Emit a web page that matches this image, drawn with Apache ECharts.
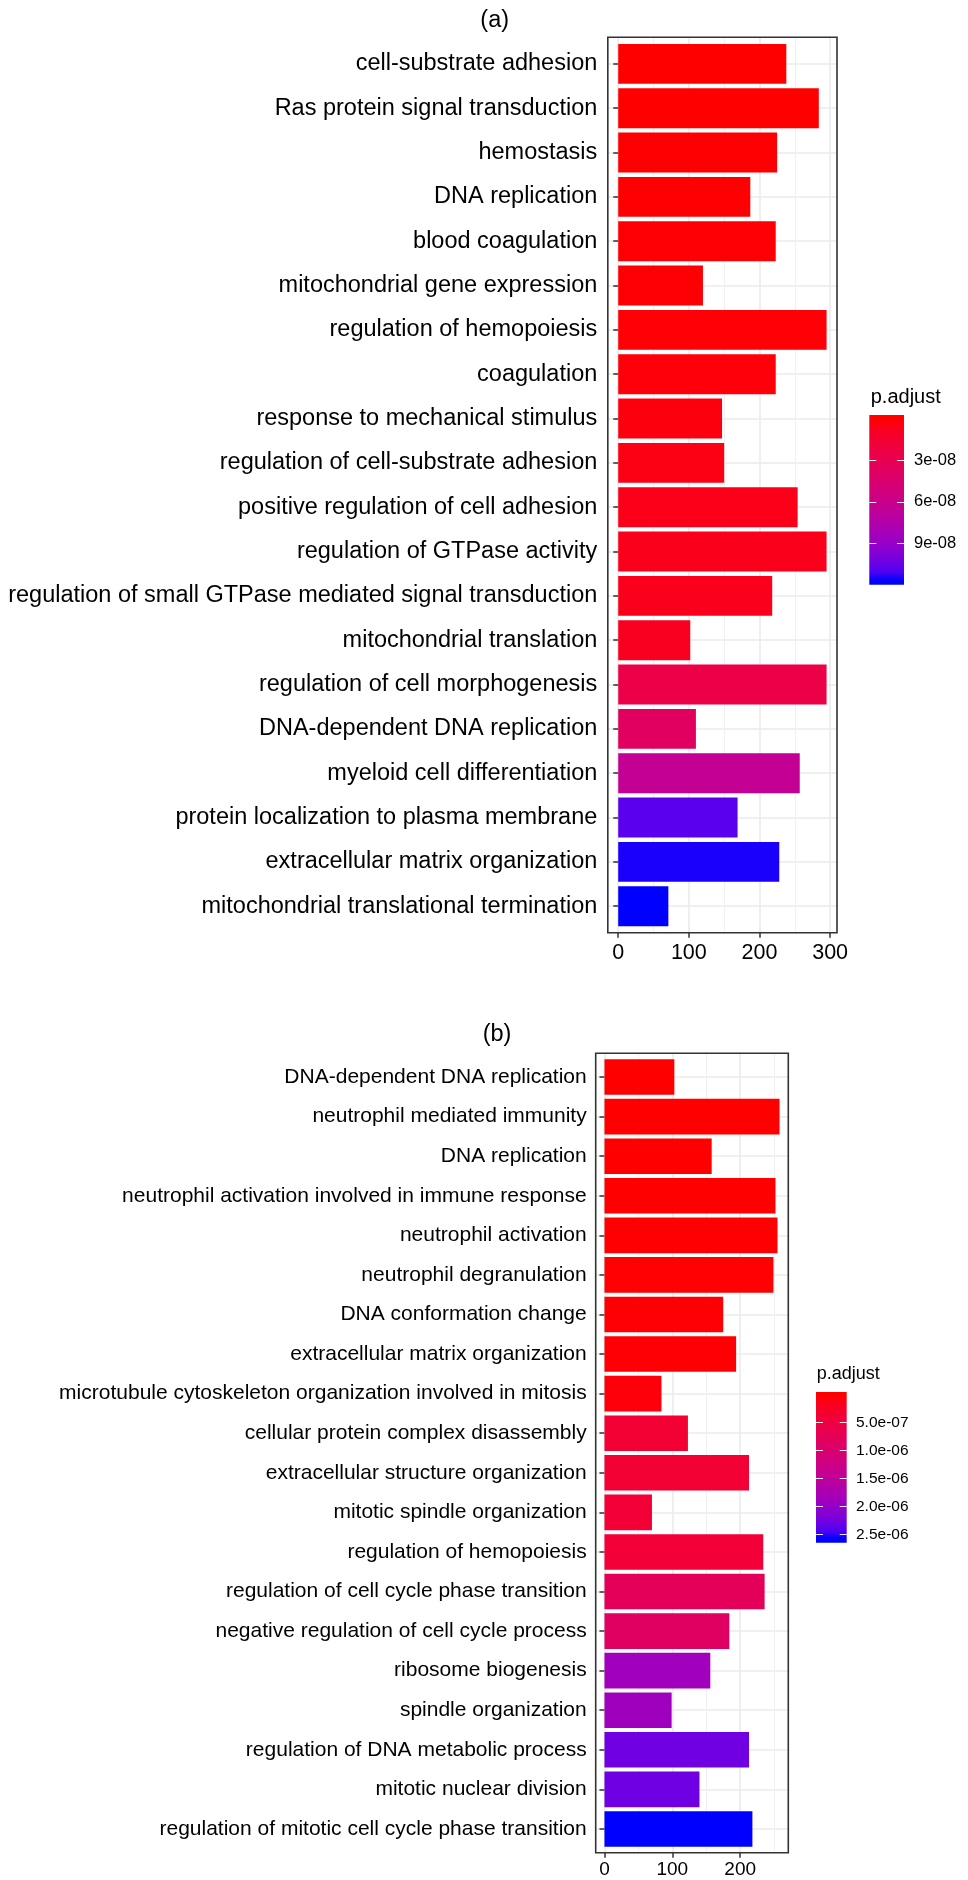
<!DOCTYPE html>
<html>
<head>
<meta charset="utf-8">
<script src="https://cdn.jsdelivr.net/npm/echarts@6.0.0/dist/echarts.min.js"></script>
<style>
html,body{margin:0;padding:0;background:#ffffff;}
#chart{width:968px;height:1880px;}
</style>
</head>
<body>
<div id="chart"></div>
<script>
// ---------------- DATA ----------------
const categoriesA = [
  "cell-substrate adhesion",
  "Ras protein signal transduction",
  "hemostasis",
  "DNA replication",
  "blood coagulation",
  "mitochondrial gene expression",
  "regulation of hemopoiesis",
  "coagulation",
  "response to mechanical stimulus",
  "regulation of cell-substrate adhesion",
  "positive regulation of cell adhesion",
  "regulation of GTPase activity",
  "regulation of small GTPase mediated signal transduction",
  "mitochondrial translation",
  "regulation of cell morphogenesis",
  "DNA-dependent DNA replication",
  "myeloid cell differentiation",
  "protein localization to plasma membrane",
  "extracellular matrix organization",
  "mitochondrial translational termination"
];
const countsA = [238, 284, 225, 187, 223, 120, 295, 223, 147, 150, 254, 295, 218, 102, 295, 110, 257, 169, 228, 71];
const padjA = [0.005e-8, 0.02e-8, 0.04e-8, 0.06e-8, 0.08e-8, 0.10e-8, 0.12e-8, 0.2e-8, 0.3e-8, 0.45e-8,
               0.55e-8, 0.6e-8, 0.7e-8, 0.8e-8, 2.5e-8, 3.7e-8, 6.4e-8, 10.8e-8, 11.5e-8, 11.7e-8];

const categoriesB = [
  "DNA-dependent DNA replication",
  "neutrophil mediated immunity",
  "DNA replication",
  "neutrophil activation involved in immune response",
  "neutrophil activation",
  "neutrophil degranulation",
  "DNA conformation change",
  "extracellular matrix organization",
  "microtubule cytoskeleton organization involved in mitosis",
  "cellular protein complex disassembly",
  "extracellular structure organization",
  "mitotic spindle organization",
  "regulation of hemopoiesis",
  "regulation of cell cycle phase transition",
  "negative regulation of cell cycle process",
  "ribosome biogenesis",
  "spindle organization",
  "regulation of DNA metabolic process",
  "mitotic nuclear division",
  "regulation of mitotic cell cycle phase transition"
];
const countsB = [103, 258, 158, 252, 255, 249, 175, 194, 84, 123, 213, 70, 234, 236, 184, 156, 99, 213, 140, 218];
const padjB = [1.8e-8, 2.0e-8, 2.2e-8, 2.5e-8, 2.8e-8, 3.2e-8, 3.6e-8, 4.0e-8, 6.9e-8, 3.77e-7,
               3.8e-7, 3.9e-7, 4.0e-7, 7.6e-7, 8.6e-7, 1.86e-6, 1.89e-6, 2.27e-6, 2.28e-6, 2.58e-6];

const xTicksA = [0, 100, 200, 300];
const xMinorA = [50, 150, 250];
const xTicksB = [0, 100, 200];
const xMinorB = [50, 150, 250];
const legendTicksA = [3e-8, 6e-8, 9e-8];
const legendTicksB = [5e-7, 1e-6, 1.5e-6, 2e-6, 2.5e-6];

const titleA = "(a)";
const titleB = "(b)";
const legendTitle = "p.adjust";

// ---------------- STYLE HELPERS ----------------
const FONT = "'Liberation Sans', Arial, Helvetica, sans-serif";
const BORDER = '#333333';
const GRID_MAJOR = '#EBEBEB';
const GRID_MINOR = '#F0F0F0';

function hexToRgb(h){return [parseInt(h.slice(1,3),16),parseInt(h.slice(3,5),16),parseInt(h.slice(5,7),16)];}
function lin(c){c/=255;return c<=0.04045?c/12.92:Math.pow((c+0.055)/1.055,2.4);}
function delin(c){c=c<=0.0031308?12.92*c:1.055*Math.pow(c,1/2.4)-0.055;return Math.round(Math.max(0,Math.min(1,c))*255);}
const WX=0.95047, WZ=1.08883;
function rgbToLab(rgb){
  const [r,g,b]=rgb.map(lin);
  const x=(0.4124564*r+0.3575761*g+0.1804375*b)/WX;
  const y=0.2126729*r+0.7151522*g+0.0721750*b;
  const z=(0.0193339*r+0.1191920*g+0.9503041*b)/WZ;
  const f=t=>t>216/24389?Math.cbrt(t):(24389/27*t+16)/116;
  const fx=f(x),fy=f(y),fz=f(z);
  return [116*fy-16,500*(fx-fy),200*(fy-fz)];
}
function labToRgb(L,a,b){
  const fy=(L+16)/116,fx=fy+a/500,fz=fy-b/200;
  const finv=t=>{const t3=t*t*t;return t3>216/24389?t3:(116*t-16)/(24389/27);};
  const x=finv(fx)*WX,y=finv(fy),z=finv(fz)*WZ;
  const r=3.2404542*x-1.5371385*y-0.4985314*z;
  const g=-0.9692660*x+1.8760108*y+0.0415560*z;
  const bb=0.0556434*x-0.2040259*y+1.0572252*z;
  return 'rgb('+delin(r)+','+delin(g)+','+delin(bb)+')';
}
function labRamp(c0,c1,n){
  const A=rgbToLab(hexToRgb(c0)),B=rgbToLab(hexToRgb(c1));const out=[];
  for(let i=0;i<n;i++){const t=i/(n-1);out.push(labToRgb(A[0]+(B[0]-A[0])*t,A[1]+(B[1]-A[1])*t,A[2]+(B[2]-A[2])*t));}
  return out;
}
const RAMP = labRamp('#ff0000','#0000ff',21);

function sci(v, d){
  const s = v.toExponential(d);
  const parts = s.split('e');
  const e = parseInt(parts[1],10);
  const sign = e < 0 ? '-' : '+';
  const n = Math.abs(e);
  return parts[0] + 'e' + sign + (n < 10 ? '0' : '') + n;
}

// ---------------- LAYOUT ----------------
const LA = {left:607.8, top:37.3, width:229.2, height:895.5, labelSize:23.5, labelMargin:10.5, tickSize:21.5, tickMargin:9.5};
const LB = {left:595.7, top:1053.3, width:192.6, height:799.4, labelSize:21, labelMargin:9, tickSize:19, tickMargin:8};
const GA = {left:869.3, top:415, width:34.7, height:169.7, labelSize:16.5, margin:10, digits:0, titleLeft:870.7, titleTop:387.1, titleSize:20};
const GB = {left:816, top:1392, width:30.7, height:150.7, labelSize:15.5, margin:9.3, digits:1, titleLeft:816.7, titleTop:1365.5, titleSize:18};

function inset(L, n){ return 0.1 * L.height / (n + 0.2); }
function legendExtent(p){
  const mn = Math.min.apply(null,p), mx = Math.max.apply(null,p);
  const pad = (mx - mn) * 0.5 / 19;
  return [mn, mx, mn - pad, mx + pad];
}
const extA = legendExtent(padjA);
const extB = legendExtent(padjB);
const maxA = Math.max.apply(null, countsA);
const maxB = Math.max.apply(null, countsB);

const insA = inset(LA, categoriesA.length);
const insB = inset(LB, categoriesB.length);

function panelGrid(L){ return {left:L.left, top:L.top, width:L.width, height:L.height, show:true, borderColor:BORDER, borderWidth:1.6, backgroundColor:'transparent', z:3, containLabel:false}; }
function dataGrid(L, ins){ return {left:L.left, top:L.top+ins, width:L.width, height:L.height-2*ins, show:false, containLabel:false}; }
function legGrid(G){ return {left:G.left, top:G.top, width:G.width, height:G.height, show:false, containLabel:false}; }

function majorX(gridIndex, max, ticks, L){
  return {
    type:'value', gridIndex, min:-0.05*max, max:1.05*max, position:'bottom',
    axisLine:{show:false},
    axisTick:{show:true, length:5, customValues:ticks, lineStyle:{color:BORDER, width:1.5}},
    axisLabel:{show:true, customValues:ticks, color:'#000', fontSize:L.tickSize, fontFamily:FONT, margin:L.tickMargin},
    splitLine:{show:true, customValues:ticks, lineStyle:{color:GRID_MAJOR, width:1.6}},
    minorSplitLine:{show:false}
  };
}
function minorX(gridIndex, max, ticks){
  return {
    type:'value', gridIndex, min:-0.05*max, max:1.05*max, position:'top',
    axisLine:{show:false},
    axisTick:{show:false, customValues:ticks},
    axisLabel:{show:false, customValues:ticks},
    splitLine:{show:true, customValues:ticks, lineStyle:{color:GRID_MINOR, width:1}}
  };
}
function hiddenX(gridIndex, max){
  return {type:'value', gridIndex, min:-0.05*max, max:1.05*max, show:false, splitLine:{show:false}};
}
function catY(gridIndex, cats, L){
  return {
    type:'category', gridIndex, data:cats, inverse:true,
    axisLine:{show:false},
    axisTick:{show:true, alignWithLabel:true, length:5, lineStyle:{color:BORDER, width:1.5}},
    axisLabel:{show:true, interval:0, color:'#000', fontSize:L.labelSize, fontFamily:FONT, margin:L.labelMargin},
    splitLine:{show:true, alignWithLabel:true, interval:0, lineStyle:{color:GRID_MAJOR, width:1.6}}
  };
}
function dummyY(gridIndex){ return {type:'value', gridIndex, min:0, max:1, show:false, splitLine:{show:false}}; }
function legY(gridIndex, ext, ticks, G, side){
  return {
    type:'value', gridIndex, min:ext[2], max:ext[3], inverse:true, position:side, z:10,
    axisLine:{show:false},
    axisTick:{show:true, inside:true, length:7, customValues:ticks, lineStyle:{color:'rgba(255,255,255,0.9)', width:1}},
    axisLabel:{show:side==='right', customValues:ticks, inside:false, margin:G.margin, color:'#000', fontSize:G.labelSize, fontFamily:FONT,
      formatter:function(v){return sci(v, G.digits);}},
    splitLine:{show:false}
  };
}

// colourbar: gradient rectangle drawn on the legend's own value scale
function colourbarSeries(xIdx, yIdx, ext){
  const span = ext[3] - ext[2];
  const o0 = (ext[0] - ext[2]) / span, o1 = (ext[1] - ext[2]) / span;
  const stops = [{offset:0, color:RAMP[0]}];
  RAMP.forEach((c, i) => stops.push({offset:o0 + (o1 - o0) * i / (RAMP.length - 1), color:c}));
  stops.push({offset:1, color:RAMP[RAMP.length - 1]});
  return {
    type:'custom', xAxisIndex:xIdx, yAxisIndex:yIdx, silent:true, z:2,
    data:[[0, ext[2], ext[3]]],
    encode:{x:0, y:[1, 2]},
    renderItem:function(params, api){
      const p0 = api.coord([api.value(0), api.value(1)]);
      const p1 = api.coord([api.value(0), api.value(2)]);
      const w = api.size([1, 0])[0];
      return {
        type:'rect',
        shape:{x:p0[0] - w / 2, y:Math.min(p0[1], p1[1]), width:w, height:Math.abs(p1[1] - p0[1])},
        style:{fill:new echarts.graphic.LinearGradient(0, 0, 0, 1, stops)}
      };
    }
  };
}

const option = {
  animation:false,
  backgroundColor:'#ffffff',
  textStyle:{fontFamily:FONT},
  title:[
    {text:titleA, left:494.7, top:9.0, textAlign:'center', padding:0, textStyle:{fontSize:23.5, fontWeight:'normal', color:'#000', fontFamily:FONT}},
    {text:titleB, left:497.0, top:1022.4, textAlign:'center', padding:0, textStyle:{fontSize:23.5, fontWeight:'normal', color:'#000', fontFamily:FONT}},
    {text:legendTitle, left:GA.titleLeft, top:GA.titleTop, padding:0, textStyle:{fontSize:GA.titleSize, fontWeight:'normal', color:'#000', fontFamily:FONT}},
    {text:legendTitle, left:GB.titleLeft, top:GB.titleTop, padding:0, textStyle:{fontSize:GB.titleSize, fontWeight:'normal', color:'#000', fontFamily:FONT}}
  ],
  grid:[panelGrid(LA), dataGrid(LA, insA), legGrid(GA), panelGrid(LB), dataGrid(LB, insB), legGrid(GB)],
  xAxis:[
    majorX(0, maxA, xTicksA, LA),
    minorX(0, maxA, xMinorA),
    hiddenX(1, maxA),
    {type:'category', gridIndex:2, data:[''], show:false},
    majorX(3, maxB, xTicksB, LB),
    minorX(3, maxB, xMinorB),
    hiddenX(4, maxB),
    {type:'category', gridIndex:5, data:[''], show:false}
  ],
  yAxis:[
    dummyY(0),
    catY(1, categoriesA, LA),
    legY(2, extA, legendTicksA, GA, 'left'),
    legY(2, extA, legendTicksA, GA, 'right'),
    dummyY(3),
    catY(4, categoriesB, LB),
    legY(5, extB, legendTicksB, GB, 'left'),
    legY(5, extB, legendTicksB, GB, 'right')
  ],
  visualMap:[
    {type:'continuous', seriesIndex:0, dimension:2, min:extA[0], max:extA[1], inRange:{color:RAMP}, show:false},
    {type:'continuous', seriesIndex:1, dimension:2, min:extB[0], max:extB[1], inRange:{color:RAMP}, show:false}
  ],
  series:[
    {type:'bar', name:'A', xAxisIndex:2, yAxisIndex:1, barCategoryGap:'10%', encode:{x:0, y:1},
     data:categoriesA.map((c,i)=>[countsA[i], c, padjA[i]]), z:2},
    {type:'bar', name:'B', xAxisIndex:6, yAxisIndex:5, barCategoryGap:'10%', encode:{x:0, y:1},
     data:categoriesB.map((c,i)=>[countsB[i], c, padjB[i]]), z:2},
    colourbarSeries(3, 2, extA),
    colourbarSeries(7, 6, extB)
  ]
};

const chart = echarts.init(document.getElementById('chart'), null, {renderer:'canvas'});
chart.setOption(option);
</script>
</body>
</html>
